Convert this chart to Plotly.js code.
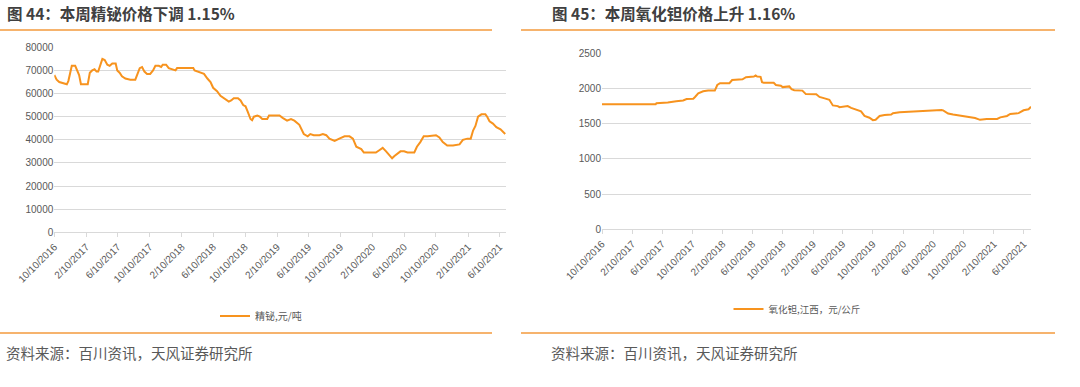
<!DOCTYPE html>
<html>
<head>
<meta charset="utf-8">
<script src="https://cdn.plot.ly/plotly-3.0.1.min.js"></script>
<style>
html,body{margin:0;padding:0;background:#fff;}
#chart{width:1080px;height:387px;}
</style>
</head>
<body>
<div id="chart"></div>
<script>
// ---------- Data ----------
const bismuthName = '精铋,元/吨';
const bismuthDates = [
'2016-10-10','2016-10-19','2016-10-29','2016-11-14','2016-11-27','2016-12-03','2016-12-10','2016-12-16','2016-12-29',
'2017-01-07','2017-01-13','2017-01-20','2017-01-30','2017-02-15','2017-02-23','2017-03-04','2017-03-13','2017-03-21','2017-03-27',
'2017-04-03','2017-04-12','2017-04-21','2017-05-01','2017-05-10','2017-05-20','2017-06-02','2017-06-08','2017-06-17','2017-06-26',
'2017-07-09','2017-07-28','2017-08-16','2017-08-23','2017-09-02','2017-09-11','2017-09-20','2017-09-30','2017-10-12','2017-10-23',
'2017-11-01','2017-11-14','2017-11-23','2017-11-29','2017-12-12','2017-12-22','2018-01-04','2018-01-17','2018-01-23','2018-02-12',
'2018-03-03','2018-03-26','2018-03-31','2018-04-10','2018-04-23','2018-05-06','2018-05-19','2018-05-31','2018-06-10','2018-06-25',
'2018-07-08','2018-07-21','2018-08-09','2018-08-18','2018-08-28','2018-09-13','2018-09-23','2018-10-03','2018-10-12','2018-10-21',
'2018-10-31','2018-11-06','2018-11-13','2018-11-26','2018-12-06','2018-12-15','2019-01-03','2019-01-10','2019-02-19','2019-03-03',
'2019-03-20','2019-04-04','2019-04-17','2019-05-06','2019-05-23','2019-06-07','2019-06-17','2019-06-30','2019-07-22','2019-08-04',
'2019-08-17','2019-08-29','2019-09-18','2019-10-06','2019-10-26','2019-11-14','2019-11-27','2019-12-10','2019-12-29','2020-01-08',
'2020-01-24','2020-02-23','2020-03-07','2020-03-20','2020-04-02','2020-04-15','2020-04-25','2020-05-04','2020-05-17','2020-05-27',
'2020-06-10','2020-06-23','2020-07-19','2020-07-29','2020-08-11','2020-08-24','2020-09-08','2020-09-28','2020-10-10','2020-10-23',
'2020-11-05','2020-11-22','2020-12-14','2021-01-08','2021-01-21','2021-02-07','2021-02-20','2021-03-01','2021-03-10','2021-03-20',
'2021-04-02','2021-04-17','2021-04-24','2021-05-03','2021-05-16','2021-05-29','2021-06-14','2021-07-02'
];
const bismuthPrices = [
68000,66000,65000,64500,64000,65500,70000,72000,72000,
70000,68000,64000,64000,64000,69000,70000,70500,69500,69500,
72000,75000,74500,72500,72000,73000,73000,70000,69000,67500,
66500,66000,66000,68500,71000,71500,69500,68500,68500,70000,
72000,72000,71500,72500,72500,71000,70500,70000,71000,71000,
71000,71000,70000,69500,69000,68500,66500,65000,62500,61000,
59000,58000,56500,57000,58000,58000,57000,55000,54500,52000,
49000,48500,50000,50500,50000,49000,49000,50500,50500,49500,
48300,49000,48300,46500,42500,41500,42500,42000,42000,42500,
42000,40500,39500,40500,41500,41500,40500,37000,36000,34500,
34500,34500,35500,36500,35000,33000,32000,33000,34000,35000,
35000,34500,34500,37000,39000,41500,41500,42000,42000,41000,
39000,37500,37500,38000,40000,40500,40500,44000,46000,50000,
51000,51000,50000,48000,47000,45500,44500,42500
];

const tantalumName = '氧化钽,江西，元/公斤';
const tantalumDates = [
'2016-10-10','2017-05-15','2017-05-18','2017-07-03','2017-08-06','2017-09-03','2017-09-17','2017-10-14','2017-10-21','2017-11-03',
'2017-11-23','2017-12-13','2018-01-09','2018-01-19','2018-01-30','2018-03-09','2018-03-20','2018-05-01','2018-05-15','2018-06-16',
'2018-06-23','2018-06-29','2018-07-13','2018-07-19','2018-07-26','2018-09-04','2018-09-13','2018-10-03','2018-10-10','2018-11-06',
'2018-11-15','2018-11-26','2018-12-29','2019-01-12','2019-02-23','2019-03-08','2019-03-29','2019-04-17','2019-05-01','2019-05-21',
'2019-05-28','2019-06-10','2019-06-30','2019-07-14','2019-08-03','2019-08-23','2019-09-06','2019-09-26','2019-10-10','2019-10-21',
'2019-11-06','2019-11-26','2019-12-23','2019-12-30','2020-01-26','2020-03-23','2020-05-14','2020-07-13','2020-07-20','2020-08-09',
'2020-08-29','2020-09-18','2020-10-10','2020-10-30','2020-11-26','2020-12-16','2021-01-12','2021-02-23','2021-03-08','2021-04-04',
'2021-04-17','2021-05-21','2021-06-10','2021-06-30','2021-07-10'
];
const tantalumPrices = [
1775,1775,1790,1800,1820,1830,1850,1855,1880,1930,
1960,1970,1970,2050,2075,2075,2120,2130,2160,2170,
2185,2170,2165,2090,2080,2080,2050,2040,2020,2030,
1990,1975,1970,1920,1918,1880,1860,1840,1760,1750,
1735,1740,1750,1725,1705,1675,1610,1585,1550,1555,
1610,1624,1630,1648,1662,1676,1690,1695,1690,1645,
1630,1620,1600,1590,1580,1555,1565,1567,1590,1610,
1638,1650,1690,1705,1740
];

const tickDates = ['2016-10-10','2017-02-10','2017-06-10','2017-10-10','2018-02-10','2018-06-10','2018-10-10',
  '2019-02-10','2019-06-10','2019-10-10','2020-02-10','2020-06-10','2020-10-10','2021-02-10','2021-06-10'];
const tickLabels = ['10/10/2016','2/10/2017','6/10/2017','10/10/2017','2/10/2018','6/10/2018','10/10/2018',
  '2/10/2019','6/10/2019','10/10/2019','2/10/2020','6/10/2020','10/10/2020','2/10/2021','6/10/2021'];

const titleLeft = '图 44：本周精铋价格下调 1.15%';
const titleRight = '图 45：本周氧化钽价格上升 1.16%';
const sourceText = '资料来源：百川资讯，天风证券研究所';

// ---------- Style ----------
const W = 1080, H = 387;
const px = x => x / W;
const py = y => 1 - y / H;
const ORANGE = '#F7931E';
const RULE = '#F39A3C';
const GRID = '#D9D9D9';
const TICKC = '#595959';
const FONT = 'Liberation Sans, Arial, Noto Sans CJK SC, sans-serif';
const CJK = 'Noto Sans CJK SC, Liberation Sans, sans-serif';

const traces = [
  {x: bismuthDates, y: bismuthPrices, name: bismuthName, type: 'scatter', mode: 'lines',
   line: {color: ORANGE, width: 2}, xaxis: 'x', yaxis: 'y', legend: 'legend'},
  {x: tantalumDates, y: tantalumPrices, name: tantalumName, type: 'scatter', mode: 'lines',
   line: {color: ORANGE, width: 2}, xaxis: 'x2', yaxis: 'y2', legend: 'legend2'}
];

function xAxis(domain, range, anchor) {
  return {
    type: 'date', domain: domain, range: range, anchor: anchor,
    tickmode: 'array', tickvals: tickDates, ticktext: tickLabels, tickangle: -45,
    tickfont: {family: FONT, size: 10, color: TICKC},
    showgrid: false, showline: true, linecolor: GRID, linewidth: 1,
    ticks: 'outside', ticklen: 4, tickcolor: GRID, zeroline: false, fixedrange: true
  };
}
function yAxis(domain, range, dtick, anchor) {
  return {
    domain: domain, range: range, anchor: anchor, dtick: dtick, tick0: 0, tickformat: 'd',
    tickfont: {family: FONT, size: 10, color: TICKC},
    showgrid: true, gridcolor: GRID, gridwidth: 1, showline: false, zeroline: false,
    ticks: '', ticklen: 0, fixedrange: true
  };
}

const layout = {
  width: W, height: H,
  margin: {l: 0, r: 0, t: 0, b: 0},
  paper_bgcolor: '#fff', plot_bgcolor: '#fff',
  showlegend: true,
  xaxis: xAxis([px(54.3), px(506)], ['2016-10-10', '2021-07-05'], 'y'),
  yaxis: yAxis([py(232.3), py(47.3)], [0, 80000], 10000, 'x'),
  xaxis2: xAxis([px(602), px(1031)], ['2016-10-10', '2021-07-10'], 'y2'),
  yaxis2: yAxis([py(229.3), py(53.3)], [0, 2500], 500, 'x2'),
  legend: {x: px(261), y: py(316), xanchor: 'center', yanchor: 'middle', orientation: 'h',
    font: {family: CJK, size: 10, color: TICKC}, bgcolor: 'rgba(0,0,0,0)'},
  legend2: {x: px(797), y: py(309), xanchor: 'center', yanchor: 'middle', orientation: 'h',
    font: {family: CJK, size: 9.5, color: TICKC}, bgcolor: 'rgba(0,0,0,0)'},
  shapes: [
    {type: 'line', xref: 'paper', yref: 'paper', x0: 0, x1: px(492), y0: py(30), y1: py(30), line: {color: RULE, width: 1.5}},
    {type: 'line', xref: 'paper', yref: 'paper', x0: px(521), x1: px(1055), y0: py(30), y1: py(30), line: {color: RULE, width: 1.5}},
    {type: 'line', xref: 'paper', yref: 'paper', x0: 0, x1: px(492), y0: py(333), y1: py(333), line: {color: RULE, width: 1.5}},
    {type: 'line', xref: 'paper', yref: 'paper', x0: px(521), x1: px(1055), y0: py(333), y1: py(333), line: {color: RULE, width: 1.5}}
  ],
  annotations: [
    {text: '<b>' + titleLeft + '</b>', xref: 'paper', yref: 'paper', x: px(5), y: py(13), xanchor: 'left', yanchor: 'middle',
     showarrow: false, font: {family: CJK, size: 15.5, color: '#404040'}},
    {text: '<b>' + titleRight + '</b>', xref: 'paper', yref: 'paper', x: px(550), y: py(13), xanchor: 'left', yanchor: 'middle',
     showarrow: false, font: {family: CJK, size: 15.5, color: '#404040'}},
    {text: sourceText, xref: 'paper', yref: 'paper', x: px(4), y: py(352), xanchor: 'left', yanchor: 'middle',
     showarrow: false, font: {family: CJK, size: 14.5, color: '#595959'}},
    {text: sourceText, xref: 'paper', yref: 'paper', x: px(549), y: py(352), xanchor: 'left', yanchor: 'middle',
     showarrow: false, font: {family: CJK, size: 14.5, color: '#595959'}}
  ]
};

Plotly.newPlot('chart', traces, layout, {staticPlot: true, displayModeBar: false});
</script>
</body>
</html>
